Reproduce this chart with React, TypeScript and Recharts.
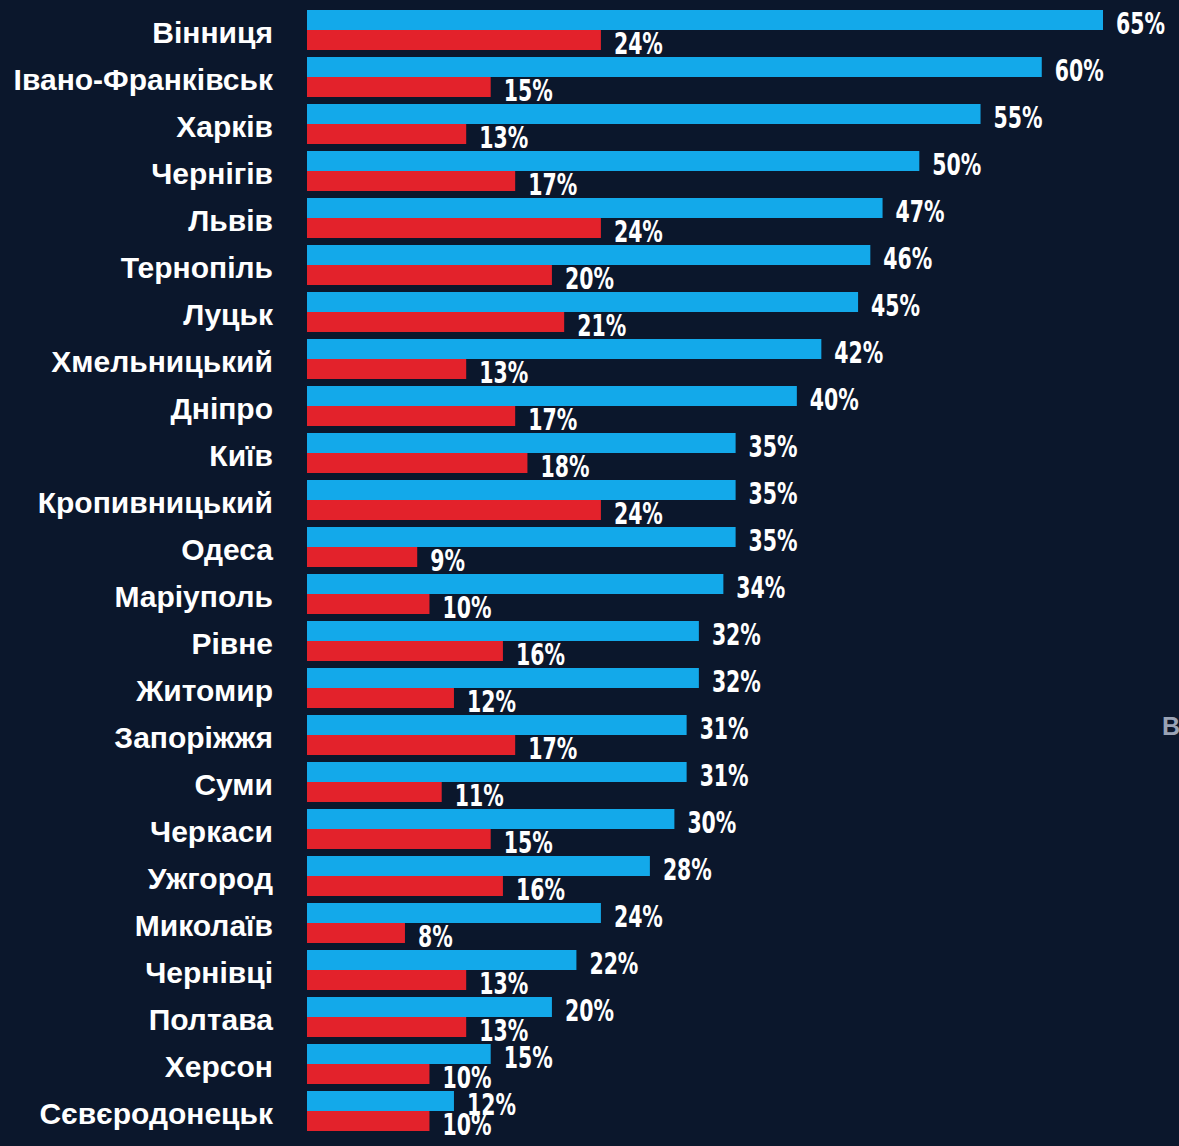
import { BarChart, Bar, XAxis, YAxis, LabelList } from "recharts";

const cities = [
  "Вінниця", "Івано-Франківськ", "Харків", "Чернігів", "Львів", "Тернопіль",
  "Луцьк", "Хмельницький", "Дніпро", "Київ", "Кропивницький", "Одеса",
  "Маріуполь", "Рівне", "Житомир", "Запоріжжя", "Суми", "Черкаси",
  "Ужгород", "Миколаїв", "Чернівці", "Полтава", "Херсон", "Сєвєродонецьк",
];
const blueValues = [65, 60, 55, 50, 47, 46, 45, 42, 40, 35, 35, 35, 34, 32, 32, 31, 31, 30, 28, 24, 22, 20, 15, 12];
const redValues = [24, 15, 13, 17, 24, 20, 21, 13, 17, 18, 24, 9, 10, 16, 12, 17, 11, 15, 16, 8, 13, 13, 10, 10];

const BG = "#0b172c";
const BLUE = "#13a9ea";
const RED = "#e3222b";

const data = cities.map((city, i) => ({ city, blue: blueValues[i], red: redValues[i] }));

const CityTick = ({ y, payload }: any) => (
  <text
    x={273}
    y={y + 3}
    textAnchor="end"
    dominantBaseline="central"
    fill="#ffffff"
    fontFamily="'Liberation Sans', Arial, sans-serif"
    fontWeight={700}
    fontSize={30}
  >
    {payload.value}
  </text>
);

// condensed display style: squeeze a bold sans horizontally
const ValueLabel = ({ x, y, width, height, value }: any) => {
  const lx = x + width + 13;
  const ly = y + height / 2 + 3;
  return (
    <text
      x={0}
      y={0}
      dominantBaseline="central"
      fill="#ffffff"
      fontFamily="'DejaVu Sans', sans-serif"
      fontWeight={700}
      fontSize={31}
      transform={`translate(${lx} ${ly}) scale(0.66 1)`}
    >
      {value}%
    </text>
  );
};

export default function App() {
  return (
    <div style={{ position: "relative", width: 1179, height: 1146, background: BG, overflow: "hidden" }}>
      <style>{`body{margin:0;background:${BG}}`}</style>
      <BarChart
        width={1179}
        height={1146}
        data={data}
        layout="vertical"
        margin={{ top: 6, right: 76, bottom: 12, left: 0 }}
        barCategoryGap={4}
        barGap={0}
      >
        <XAxis type="number" domain={[0, 65]} hide />
        <YAxis
          type="category"
          dataKey="city"
          width={307}
          axisLine={false}
          tickLine={false}
          tick={<CityTick />}
          interval={0}
        />
        <Bar dataKey="blue" fill={BLUE} isAnimationActive={false}>
          <LabelList dataKey="blue" content={<ValueLabel />} />
        </Bar>
        <Bar dataKey="red" fill={RED} isAnimationActive={false}>
          <LabelList dataKey="red" content={<ValueLabel />} />
        </Bar>
      </BarChart>
      <div
        style={{
          position: "absolute",
          left: 1162,
          top: 712,
          color: "#9aa3b5",
          fontFamily: "'Liberation Sans', Arial, sans-serif",
          fontWeight: 700,
          fontSize: 25,
        }}
      >
        В
      </div>
    </div>
  );
}
